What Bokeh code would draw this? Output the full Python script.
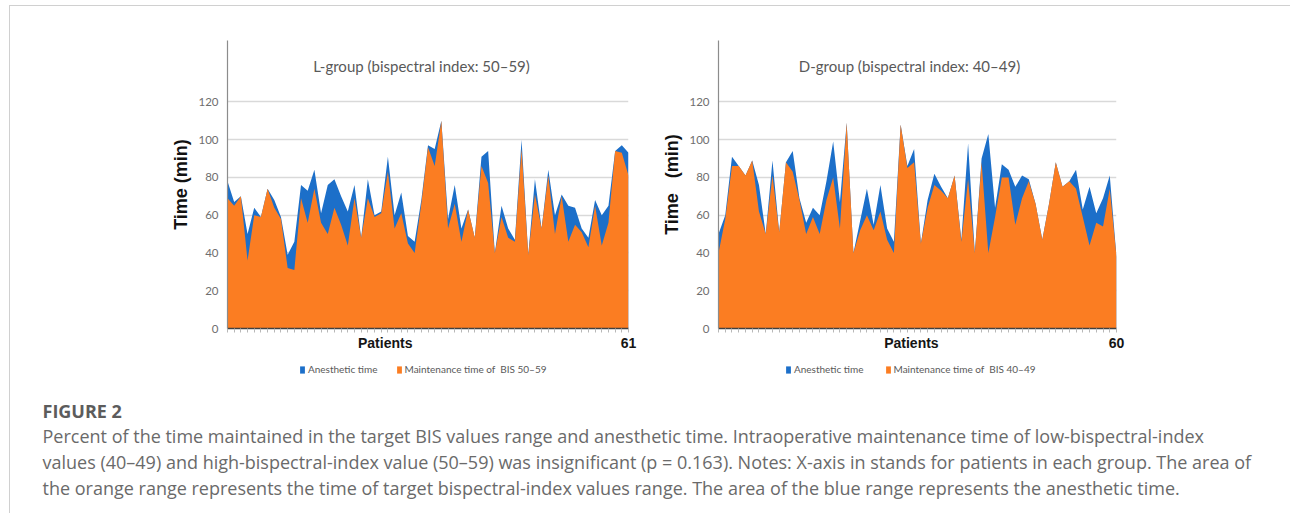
from bokeh.plotting import figure
from bokeh.models import Range1d, FixedTicker, Label, Legend, LegendItem, Div, ColumnDataSource, Title
from bokeh.layouts import row, column
from bokeh.embed import file_html
from bokeh.resources import INLINE
from bokeh.core.properties import value

# ---------------- data ----------------
patients_L = list(range(1, 62))
anesthetic_L = [78, 67, 70, 50, 64, 59, 74, 68, 59, 39,
                46, 76, 73, 84, 61, 76, 79, 70, 62, 76,
                48, 79, 60, 62, 91, 60, 72, 49, 46, 68,
                97, 95, 110, 58, 76, 53, 63, 48, 91, 94,
                40, 65, 53, 47, 100, 39, 79, 53, 84, 60,
                71, 65, 64, 53, 48, 68, 60, 65, 94, 97, 93]
maintenance_L = [69, 65, 70, 36, 60, 59, 74, 64, 58, 32,
                 31, 69, 56, 74, 56, 50, 64, 55, 44, 69,
                 48, 69, 59, 61, 83, 53, 61, 45, 40, 66,
                 96, 86, 110, 53, 66, 46, 63, 48, 86, 77,
                 40, 59, 48, 46, 95, 39, 71, 53, 81, 50,
                 70, 46, 55, 51, 43, 65, 44, 56, 94, 93, 81]

patients_D = list(range(1, 61))
anesthetic_D = [50, 60, 91, 86, 81, 89, 76, 50, 89, 51,
                88, 94, 69, 56, 64, 60, 78, 99, 67, 109,
                40, 57, 74, 55, 76, 53, 46, 108, 86, 95,
                45, 68, 82, 75, 69, 81, 47, 98, 40, 90,
                103, 64, 87, 84, 75, 81, 79, 66, 47, 66,
                88, 75, 78, 84, 63, 75, 61, 69, 81, 38]
maintenance_D = [40, 58, 86, 86, 81, 89, 62, 50, 81, 51,
                 88, 83, 68, 50, 59, 50, 68, 80, 53, 109,
                 40, 52, 60, 52, 62, 47, 40, 108, 85, 88,
                 45, 64, 76, 73, 69, 81, 46, 79, 40, 88,
                 40, 59, 80, 80, 55, 69, 78, 66, 47, 66,
                 88, 75, 78, 74, 59, 44, 56, 54, 74, 38]

y_ticks = [0, 20, 40, 60, 80, 100, 120]
legend_labels_L = ["Anesthetic time", "Maintenance time of  BIS 50\u201359"]
legend_labels_D = ["Anesthetic time", "Maintenance time of  BIS 40\u201349"]

BLUE = "#1C6FC9"
ORANGE = "#FB7D22"
CHART_FONT = "Lato"
SANS = "Liberation Sans"
CAP_FONT = "Open Sans"


def make_chart(x, anes, maint, title, ylabel, width, left, right, title_x, patients_pos):
    n = len(x)
    p = figure(width=width, height=351, x_range=Range1d(1, n), y_range=Range1d(0, 152.5),
               output_backend="svg", toolbar_location=None,
               min_border_left=left, min_border_right=right,
               min_border_top=34, min_border_bottom=29)
    p.outline_line_color = None
    p.xgrid.visible = False
    p.ygrid.ticker = FixedTicker(ticks=y_ticks)
    p.ygrid.grid_line_color = "#d9d9d9"
    p.ygrid.grid_line_width = 1.6

    src = ColumnDataSource(dict(x=x, zero=[0] * n, anes=anes, maint=maint))
    p.varea(x="x", y1="zero", y2="anes", source=src, fill_color=BLUE)
    p.varea(x="x", y1="zero", y2="maint", source=src, fill_color=ORANGE)

    xa = p.xaxis[0]
    xa.ticker = FixedTicker(ticks=[patients_pos, n], minor_ticks=x)
    xa.major_label_overrides = {patients_pos: "Patients", n: str(n)}
    xa.major_tick_out = 4
    xa.major_tick_in = 0
    xa.major_tick_line_color = None
    xa.minor_tick_out = 4
    xa.minor_tick_in = 0
    xa.minor_tick_line_color = "#b8b8b8"
    xa.axis_line_color = "#404040"
    xa.axis_line_width = 1.5
    xa.major_label_text_font = SANS
    xa.major_label_text_font_size = "14px"
    xa.major_label_text_font_style = "bold"
    xa.major_label_text_color = "#151515"
    xa.major_label_standoff = 2

    ya = p.yaxis[0]
    ya.ticker = FixedTicker(ticks=y_ticks)
    ya.major_tick_line_color = None
    ya.major_tick_out = 0
    ya.major_tick_in = 0
    ya.minor_tick_line_color = None
    ya.axis_line_color = "#8c8c8c"
    ya.axis_line_width = 1.2
    ya.major_label_text_font = CHART_FONT
    ya.major_label_text_font_size = "11.5px"
    ya.major_label_text_color = "#6e6e6e"
    ya.major_label_standoff = 9

    p.add_layout(Label(x=title_x, y=263, x_units="screen", y_units="screen", text=title,
                       text_align="center", text_baseline="middle",
                       text_font=CHART_FONT, text_font_size="15px", text_color="#595959"))

    p.add_layout(Title(text=ylabel, align="center", offset=22,
                       text_font=SANS, text_font_size="18px", text_font_style="bold",
                       text_color="#111111"), "left")
    return p


pL = make_chart(patients_L, anesthetic_L, maintenance_L,
                "L-group (bispectral index: 50\u201359)", "Time (min)",
                width=642, left=217, right=24, title_x=194, patients_pos=24.6)
pD = make_chart(patients_D, anesthetic_D, maintenance_D,
                "D-group (bispectral index: 40\u201349)", "Time\u00a0\u00a0\u00a0(min)",
                width=638, left=66, right=174, title_x=191, patients_pos=29.6)

# ---------------- legend strip ----------------
leg = figure(width=1280, height=23, x_range=Range1d(0, 1280), y_range=Range1d(0, 23),
             output_backend="svg", toolbar_location=None,
             x_axis_location=None, y_axis_location=None, min_border=0)
leg.outline_line_color = None
leg.grid.visible = False
# legend-key renderers: their data lie outside the visible range, only the keys show
key_src = ColumnDataSource(dict(x=[-50, -40], lo=[0, 0], hi=[1, 1]))
kb = leg.varea(x="x", y1="lo", y2="hi", source=key_src, fill_color=BLUE)
ko = leg.varea(x="x", y1="lo", y2="hi", source=key_src, fill_color=ORANGE)


def add_legend(labels, x0, spacing):
    lg = Legend(items=[LegendItem(label=labels[0], renderers=[kb]),
                       LegendItem(label=labels[1], renderers=[ko])],
                orientation="horizontal", location=(x0, 5))
    lg.padding = 0
    lg.margin = 0
    lg.spacing = spacing
    lg.border_line_color = None
    lg.background_fill_alpha = 0
    lg.glyph_width = 6
    lg.glyph_height = 9
    lg.label_standoff = 3
    lg.label_height = 12
    lg.label_text_font = CHART_FONT
    lg.label_text_font_size = "10px"
    lg.label_text_color = "#595959"
    lg.label_text_baseline = "middle"
    leg.add_layout(lg)


add_legend(legend_labels_L, 289, 18)
add_legend(legend_labels_D, 775, 21)

# ---------------- caption ----------------
cap_lines = [
    "Percent of the time maintained in the target BIS values range and anesthetic time. Intraoperative maintenance time of low-bispectral-index",
    "values (40\u201349) and high-bispectral-index value (50\u201359) was insignificant (p = 0.163). Notes: X-axis in stands for patients in each group. The area of",
    "the orange range represents the time of target bispectral-index values range. The area of the blue range represents the anesthetic time.",
]
cap = figure(width=1280, height=133, x_range=Range1d(0, 1280), y_range=Range1d(133, 0),
             output_backend="svg", toolbar_location=None,
             x_axis_location=None, y_axis_location=None, min_border=0)
cap.outline_line_color = None
cap.grid.visible = False
cap.text(x=[32], y=[30], text=["FIGURE 2"], text_font=value(CAP_FONT), text_font_size="18px",
         text_font_style="bold", text_color="#5c5c5c", text_baseline="middle")
cap.text(x=[32, 32, 32], y=[55, 81, 107], text=cap_lines, text_font=value(CAP_FONT),
         text_font_size="18px", text_color="#6a6a6a", text_baseline="middle")

line_style = {"background-color": "#d0d0d0"}
spacer_top = Div(width=1290, height=5, margin=0)
spacer_left = Div(width=9, height=508, margin=0)
top_line = Div(width=1281, height=1, margin=0, styles=line_style)
left_line = Div(width=1, height=507, margin=0, styles=line_style)

layout = column(spacer_top,
                row(spacer_left,
                    column(top_line,
                           row(left_line, column(row(pL, pD), leg, cap)))))

open("out.html", "w").write(file_html(layout, INLINE))
